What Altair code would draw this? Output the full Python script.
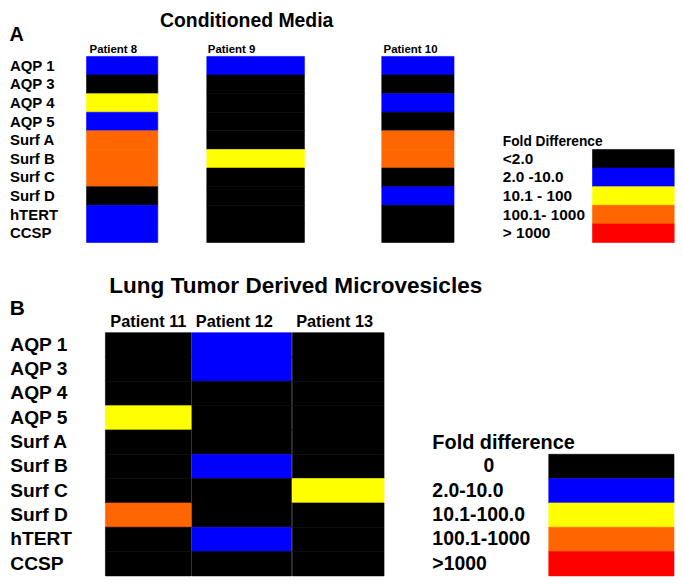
import altair as alt
import pandas as pd

FONT = "Liberation Sans"

# ---------------- data ----------------
genes = ["AQP 1", "AQP 3", "AQP 4", "AQP 5", "Surf A", "Surf B", "Surf C", "Surf D", "hTERT", "CCSP"]
fold_colors = ["#000000", "#0000ff", "#ffff00", "#ff6600", "#ff0000"]
fold_codes = [0, 1, 2, 3, 4]

# Panel A
panel_a_letter = "A"
title_a = "Conditioned Media"
patients_a = ["Patient 8", "Patient 9", "Patient 10"]
levels_a = ["<2.0", "2.0 -10.0", "10.1 - 100", "100.1- 1000", "> 1000"]
legend_title_a = "Fold Difference"
patient8 = [1, 0, 2, 1, 3, 3, 3, 0, 1, 1]
patient9 = [1, 0, 0, 0, 0, 2, 0, 0, 0, 0]
patient10 = [1, 0, 1, 0, 3, 3, 0, 1, 0, 0]

# Panel B
panel_b_letter = "B"
title_b = "Lung Tumor Derived Microvesicles"
patients_b = ["Patient 11", "Patient 12", "Patient 13"]
levels_b = ["0", "2.0-10.0", "10.1-100.0", "100.1-1000", ">1000"]
legend_title_b = "Fold difference"
patient11 = [0, 0, 0, 2, 0, 0, 0, 3, 0, 0]
patient12 = [1, 1, 0, 0, 0, 1, 0, 0, 1, 0]
patient13 = [0, 0, 0, 0, 0, 0, 2, 0, 0, 0]

# ---------------- helpers ----------------
color_scale = alt.Scale(domain=fold_codes, range=fold_colors)


def fill_enc():
    return alt.Color("code:O", scale=color_scale, legend=None)


def stroke_enc():
    return alt.Stroke("code:O", scale=color_scale, legend=None)


def gene_axis(size, pad):
    return alt.Axis(orient="left", title=None, ticks=False, tickSize=0, domain=False,
                    labelAlign="left", labelBaseline="middle", labelPadding=pad,
                    labelFont=FONT, labelFontSize=size, labelFontWeight="bold",
                    labelColor="black", labelLimit=300)


def column(patient, codes, width, height, lab_size, lab_pad, lab_inset, yaxis):
    df = pd.DataFrame({"gene": genes, "patient": [patient] * len(genes), "code": codes})
    xaxis = alt.Axis(orient="top", title=None, ticks=False, tickSize=0, domain=False,
                     labelAngle=0, labelAlign="left", labelBaseline="alphabetic",
                     labelOffset=-width / 2 + lab_inset, labelPadding=lab_pad,
                     labelFont=FONT, labelFontSize=lab_size, labelFontWeight="bold",
                     labelColor="black", labelLimit=300)
    return alt.Chart(df).mark_rect(strokeWidth=0.6).encode(
        x=alt.X("patient:N", scale=alt.Scale(paddingInner=0, paddingOuter=0), axis=xaxis),
        y=alt.Y("gene:N", sort=genes,
                scale=alt.Scale(domain=genes, paddingInner=0, paddingOuter=0),
                axis=yaxis),
        color=fill_enc(),
        stroke=stroke_enc(),
    ).properties(width=width, height=height)


def text_layer(txt, x, y, size, align):
    return alt.Chart(alt.Data(values=[{"t": txt}])).mark_text(
        font=FONT, fontSize=size, fontWeight="bold", color="black",
        align=align, baseline="middle"
    ).encode(text="t:N", x=alt.value(x), y=alt.value(y))


def spacer(width, height):
    return alt.Chart(alt.Data(values=[{"t": ""}])).mark_text().encode(
        text="t:N", x=alt.value(0), y=alt.value(0)).properties(width=width, height=height)


def legend_chart(levels, title, width, height, lab_size, title_size, title_y,
                 label_align, label_pad, title_x):
    df = pd.DataFrame({"level": levels, "code": fold_codes})
    axis = alt.Axis(orient="left", title=title, titleAngle=0, titleAlign="left",
                    titleBaseline="middle", titleX=title_x, titleY=title_y,
                    titleFont=FONT, titleFontSize=title_size, titleFontWeight="bold",
                    titleColor="black", titleLimit=400,
                    ticks=False, tickSize=0, domain=False,
                    labelAlign=label_align, labelBaseline="middle", labelPadding=label_pad,
                    labelFont=FONT, labelFontSize=lab_size, labelFontWeight="bold",
                    labelColor="black", labelLimit=300)
    return alt.Chart(df).mark_rect(strokeWidth=0.6).encode(
        y=alt.Y("level:N", sort=levels,
                scale=alt.Scale(domain=levels, paddingInner=0, paddingOuter=0,
                                range=[height / 2, height]),
                axis=axis),
        color=fill_enc(),
        stroke=stroke_enc(),
    ).properties(width=width, height=height)


# ---------------- panel A ----------------
hA = 187.2
p8 = alt.layer(
    column(patients_a[0], patient8, 71.7, hA, 11.5, 3.9, 3, gene_axis(15, 77.5)),
    text_layer(panel_a_letter, -77.5, -21.4, 20, "left"),
    text_layer(title_a, 161.1, -35.6, 19.5, "center"),
).properties(width=71.7, height=hA)
p9 = column(patients_a[1], patient9, 98.2, hA, 11.5, 3.9, 1, None)
p10 = column(patients_a[2], patient10, 72.7, hA, 11.5, 3.9, 1.8, None)
legA = legend_chart(levels_a, legend_title_a, 82.2, hA, 15.5, 13.8, 85.3,
                    "left", 90.7, -90.7)

rowA = alt.hconcat(p8, spacer(48.1, hA), p9, spacer(76.7, hA), p10,
                   spacer(138.7, hA), legA, spacing=0, bounds="flush")

# ---------------- panel B ----------------
hB = 244.7
p11 = alt.layer(
    column(patients_b[0], patient11, 86.4, hB, 16.4, 5.8, 4.9, gene_axis(19.3, 96.2)),
    text_layer(panel_b_letter, -96.2, -23.9, 21, "left"),
    text_layer(title_b, 3.9, -47.3, 22.7, "left"),
).properties(width=86.4, height=hB)
p12 = column(patients_b[1], patient12, 100.2, hB, 16.4, 5.8, 4, None)
p13 = column(patients_b[2], patient13, 92.3, hB, 16.4, 5.8, 3.9, None)
legB = legend_chart(
    levels_b, legend_title_b, 126, hB, 19.5, 20, 110.2,
    {"condition": {"test": "datum.value === '0'", "value": "center"}, "value": "left"},
    {"condition": {"test": "datum.value === '0'", "value": 60.6}, "value": 117.6},
    -117.6)

rowB = alt.hconcat(spacer(18.7, hB), p11, p12, p13, spacer(164.7, hB), legB,
                   spacing=0, bounds="flush")

chart = alt.vconcat(rowA, rowB, spacing=277.9, bounds="flush").properties(
    padding={"left": 1, "top": 1, "right": 0, "bottom": 0}
).configure(font=FONT, background="white").configure_view(strokeWidth=0)

chart.save("out.html", embed_options={"renderer": "svg", "actions": False})
